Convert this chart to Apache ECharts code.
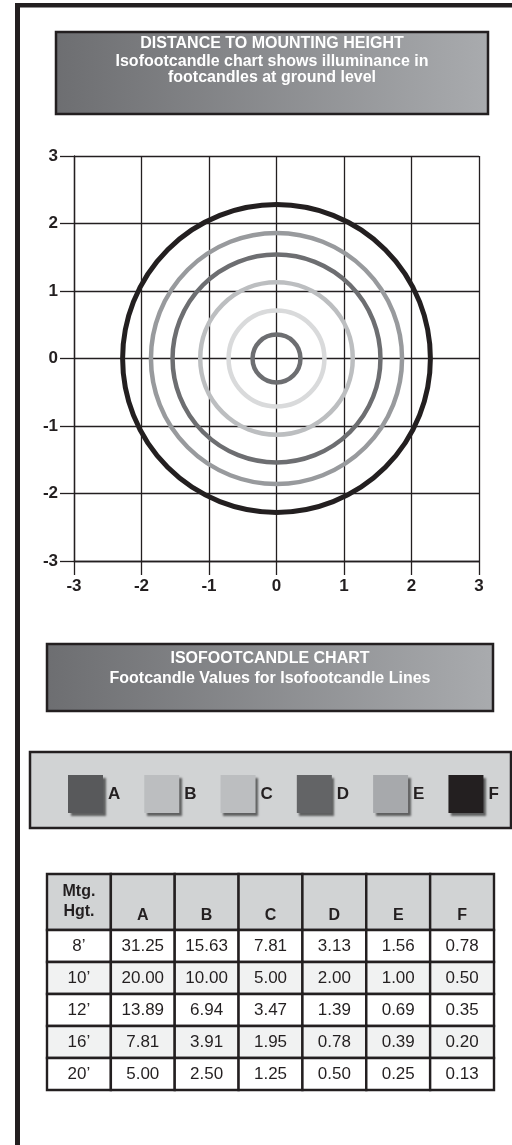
<!DOCTYPE html>
<html><head><meta charset="utf-8">
<script src="https://cdn.jsdelivr.net/npm/echarts@6/dist/echarts.min.js"></script>
<style>html,body{margin:0;padding:0;background:#fff;}#c{width:512px;height:1145px;}</style>
</head><body><div id="c"></div>
<script>
// ---------- data ----------
const lineNames = ['A', 'B', 'C', 'D', 'E', 'F'];
// isofootcandle ring radii, in multiples of mounting height
const ringRadii = [0.355, 0.71, 1.13, 1.54, 1.86, 2.28];
const mountingHeights = ['8’', '10’', '12’', '16’', '20’'];
const fcA = [31.25, 20.00, 13.89, 7.81, 5.00];
const fcB = [15.63, 10.00, 6.94, 3.91, 2.50];
const fcC = [7.81, 5.00, 3.47, 1.95, 1.25];
const fcD = [3.13, 2.00, 1.39, 0.78, 0.50];
const fcE = [1.56, 1.00, 0.69, 0.39, 0.25];
const fcF = [0.78, 0.50, 0.35, 0.20, 0.13];
const cornerLabel = 'Mtg.\nHgt.';
const title1 = ['DISTANCE TO MOUNTING HEIGHT', 'Isofootcandle chart shows illuminance in', 'footcandles at ground level'];
const title2 = ['ISOFOOTCANDLE CHART', 'Footcandle Values for Isofootcandle Lines'];

// ---------- styles ----------
const FONT = '"Liberation Sans", Arial, Helvetica, sans-serif';
const INK = '#231f20';
const ringColors = ['#6d6e71', '#d9dadb', '#bcbec0', '#6d6e71', '#989a9d', '#231f20'];
const ringWidths = [4.5, 4.5, 4.5, 4.5, 4.5, 5];
const legendColors = ['#58595b', '#bcbec0', '#bcbec0', '#636466', '#a7a9ac', '#231f20'];

// ---------- table cells built from data ----------
const fcCols = [fcA, fcB, fcC, fcD, fcE, fcF];
const HEADER_SPAN = 1.75;
const cells = [];
cells.push({ col: 0, row: 0, span: HEADER_SPAN, text: cornerLabel, kind: 'corner' });
lineNames.forEach((n, i) => cells.push({ col: i + 1, row: 0, span: HEADER_SPAN, text: n, kind: 'head' }));
mountingHeights.forEach((h, r) => {
  const y = HEADER_SPAN + r;
  const kind = r % 2 ? 'alt' : 'row';
  cells.push({ col: 0, row: y, span: 1, text: h, kind });
  fcCols.forEach((col, c) => cells.push({ col: c + 1, row: y, span: 1, text: col[r].toFixed(2), kind }));
});

const chart = echarts.init(document.getElementById('c'), null, { renderer: 'canvas' });

const gridLine = { color: INK, width: 1.3 };
const axisLabel = { color: INK, fontSize: 17, fontWeight: 'bold', fontFamily: FONT };

const ringSeries = lineNames.map((n, i) => ({
  type: 'custom', name: n, xAxisIndex: 0, yAxisIndex: 0,
  itemStyle: { color: ringColors[i] },
  clip: false, silent: true, z: 3,
  data: [[0, 0, ringRadii[i]]],
  renderItem: (params, api) => {
    const c = api.coord([api.value(0), api.value(1)]);
    const r = api.size([api.value(2), api.value(2)]);
    return {
      type: 'circle', shape: { cx: c[0], cy: c[1], r: r[0] },
      style: { fill: 'none', stroke: api.visual('color'), lineWidth: ringWidths[i] }
    };
  }
}));

const tableSeries = {
  type: 'custom', name: 'table', xAxisIndex: 1, yAxisIndex: 1, silent: true, clip: false,
  data: cells.map(c => [c.col, c.row, c.span]),
  renderItem: (params, api) => {
    const cell = cells[params.dataIndex];
    const p0 = api.coord([api.value(0), api.value(1)]);
    const p1 = api.coord([api.value(0) + 1, api.value(1) + api.value(2)]);
    const x = p0[0], y = p0[1], w = p1[0] - p0[0], h = p1[1] - p0[1];
    const fill = cell.kind === 'row' ? '#ffffff' : cell.kind === 'alt' ? '#f1f2f2' : '#d1d3d4';
    const bold = cell.kind === 'corner' || cell.kind === 'head';
    const ty = cell.kind === 'head' ? y + h - 14 : y + h / 2;
    return {
      type: 'group', children: [
        { type: 'rect', shape: { x, y, width: w, height: h }, style: { fill, stroke: INK, lineWidth: 2.4 } },
        { type: 'text', style: {
          x: x + w / 2, y: ty, text: cell.text, align: 'center', verticalAlign: 'middle',
          fontFamily: FONT, fontSize: bold ? 16 : 17, fontWeight: bold ? 'bold' : 'normal',
          lineHeight: 20, fill: INK } }
      ]
    };
  }
};

function headerBox(x, y, w, h, lines, centers) {
  const children = [{
    type: 'rect', shape: { x, y, width: w, height: h },
    style: {
      fill: new echarts.graphic.LinearGradient(0, 0, 1, 0, [
        { offset: 0, color: '#6d6e71' }, { offset: 1, color: '#a9abae' }]),
      stroke: INK, lineWidth: 2.5
    }
  }];
  lines.forEach((t, i) => children.push({
    type: 'text', style: {
      x: x + w / 2, y: centers[i], text: t, align: 'center', verticalAlign: 'middle',
      fontFamily: FONT, fontSize: 16, fontWeight: 'bold', fill: '#ffffff'
    }
  }));
  return { type: 'group', children };
}

chart.setOption({
  animation: false,
  backgroundColor: '#ffffff',
  grid: [
    { left: 74, top: 156, width: 405, height: 405, containLabel: false },
    { left: 47, top: 874, width: 447, height: 216, containLabel: false }
  ],
  xAxis: [
    { gridIndex: 0, type: 'value', min: -3, max: 3, interval: 1,
      axisLine: { show: true, onZero: false, lineStyle: gridLine },
      axisTick: { show: true, length: 14, lineStyle: gridLine },
      axisLabel: Object.assign({ margin: 17 }, axisLabel),
      splitLine: { show: true, lineStyle: gridLine } },
    { gridIndex: 1, type: 'value', min: 0, max: 7, show: false }
  ],
  yAxis: [
    { gridIndex: 0, type: 'value', min: -3, max: 3, interval: 1,
      axisLine: { show: true, onZero: false, lineStyle: gridLine },
      axisTick: { show: true, length: 14, lineStyle: gridLine },
      axisLabel: Object.assign({ margin: 16, padding: [0, 0, 4, 0] }, axisLabel),
      splitLine: { show: true, lineStyle: gridLine } },
    { gridIndex: 1, type: 'value', min: 0, max: 5 + HEADER_SPAN, inverse: true, show: false }
  ],
  legend: {
    show: true, orient: 'horizontal', left: 63, top: 770,
    itemWidth: 35, itemHeight: 38, itemGap: 24, icon: 'rect', selectedMode: false,
    textStyle: { color: INK, fontSize: 17, fontWeight: 'bold', fontFamily: FONT },
    itemStyle: { shadowBlur: 2, shadowColor: 'rgba(0,0,0,0.55)', shadowOffsetX: 2.5, shadowOffsetY: 2.5, borderWidth: 0 },
    data: lineNames.map((n, i) => ({ name: n, itemStyle: { color: legendColors[i] } }))
  },
  graphic: [
    { type: 'rect', z: 0, shape: { x: 15, y: 3, width: 497, height: 4.5 }, style: { fill: INK } },
    { type: 'rect', z: 0, shape: { x: 15, y: 3, width: 5, height: 1142 }, style: { fill: INK } },
    headerBox(56, 32, 432, 82, title1, [44, 61.5, 78]),
    headerBox(47, 644, 446, 67, title2, [658.5, 678.5]),
    { type: 'rect', z: -1, shape: { x: 30, y: 752, width: 481, height: 76 },
      style: { fill: '#d1d3d4', stroke: INK, lineWidth: 2.5 } }
  ],
  series: ringSeries.concat([tableSeries])
});
</script>
</body></html>
